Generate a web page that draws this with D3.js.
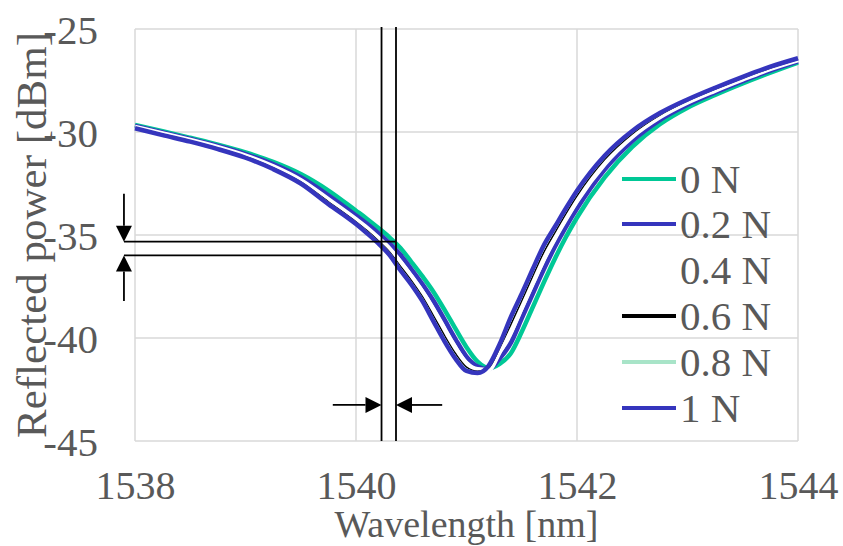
<!DOCTYPE html>
<html><head><meta charset="utf-8">
<script src="https://cdn.jsdelivr.net/npm/d3@7"></script>
<style>
html,body{margin:0;padding:0;background:#fff;}
svg{display:block;}
</style></head>
<body>
<svg id="chart" width="843" height="546"></svg>
<script>
const wavelengths = [1538.00,1538.25,1538.50,1538.75,1539.00,1539.25,1539.50,1539.75,1540.00,1540.10,1540.20,1540.30,1540.40,1540.50,1540.60,1540.70,1540.80,1540.90,1541.00,1541.10,1541.20,1541.30,1541.40,1541.50,1541.60,1541.70,1541.80,1541.90,1542.00,1542.25,1542.50,1542.75,1543.00,1543.25,1543.50,1543.75,1544.00];
const power0N  = [-29.66,-29.96,-30.28,-30.61,-30.99,-31.45,-32.04,-32.84,-33.82,-34.22,-34.65,-35.10,-35.62,-36.30,-37.00,-37.75,-38.62,-39.55,-40.45,-41.15,-41.46,-41.25,-40.75,-39.70,-38.50,-37.30,-36.15,-35.10,-34.15,-32.20,-30.72,-29.62,-28.82,-28.20,-27.64,-27.12,-26.63];
const power02N = [-29.71,-30.02,-30.34,-30.68,-31.07,-31.56,-32.20,-33.07,-34.05,-34.46,-34.90,-35.38,-35.95,-36.65,-37.38,-38.18,-39.10,-40.05,-40.90,-41.38,-41.52,-41.00,-40.25,-39.05,-37.85,-36.67,-35.57,-34.60,-33.72,-31.83,-30.44,-29.42,-28.68,-28.08,-27.53,-27.02,-26.57];
const power04N = [-29.76,-30.07,-30.39,-30.74,-31.15,-31.67,-32.34,-33.27,-34.24,-34.66,-35.13,-35.64,-36.29,-36.99,-37.75,-38.63,-39.58,-40.49,-41.22,-41.52,-41.55,-40.68,-39.73,-38.54,-37.35,-36.18,-35.16,-34.23,-33.35,-31.55,-30.23,-29.28,-28.57,-27.99,-27.45,-26.94,-26.51];
const power06N = [-29.79,-30.11,-30.43,-30.79,-31.20,-31.74,-32.42,-33.39,-34.36,-34.79,-35.27,-35.80,-36.50,-37.20,-37.98,-38.91,-39.87,-40.75,-41.41,-41.61,-41.45,-40.49,-39.36,-38.19,-36.99,-35.83,-34.88,-33.96,-33.10,-31.34,-30.09,-29.18,-28.49,-27.92,-27.38,-26.89,-26.47];
const power08N = [-29.81,-30.14,-30.46,-30.81,-31.23,-31.78,-32.47,-33.46,-34.43,-34.87,-35.35,-35.89,-36.63,-37.33,-38.12,-39.08,-40.05,-40.91,-41.53,-41.67,-41.36,-40.37,-39.13,-37.97,-36.77,-35.62,-34.70,-33.79,-32.94,-31.22,-30.00,-29.12,-28.45,-27.87,-27.34,-26.85,-26.44];
const power1N  = [-29.82,-30.15,-30.47,-30.83,-31.25,-31.80,-32.50,-33.50,-34.47,-34.92,-35.40,-35.95,-36.70,-37.40,-38.20,-39.18,-40.15,-41.00,-41.60,-41.70,-41.35,-40.30,-39.00,-37.85,-36.65,-35.50,-34.60,-33.70,-32.85,-31.15,-29.95,-29.08,-28.42,-27.85,-27.32,-26.83,-26.42];

const seriesNames = ["0 N","0.2 N","0.4 N","0.6 N","0.8 N","1 N"];
const seriesValues = [power0N, power02N, power04N, power06N, power08N, power1N];
const seriesColors = ["#00c896","#3535bd","#ffffff","#000000","#a8e4c8","#3535bd"];
const seriesWidths = [4.5, 4.5, 4.5, 1.5, 2.5, 4.5];

const xTicks = [1538, 1540, 1542, 1544];
const yTicks = [-45, -40, -35, -30, -25];
const yTickLabels = ["-45", "-40", "-35", "-30", "-25"];

// annotation markers (wavelength / power values)
const markWavelengths = [1540.231, 1540.362];
const markPowers = [-35.325, -35.99];

const FONT = '"Liberation Serif", Tinos, "Times New Roman", Times, "DejaVu Serif", serif';

const svg = d3.select("#chart");
const x = d3.scaleLinear().domain([1538, 1544]).range([135, 798]);
const y = d3.scaleLinear().domain([-45, -25]).range([441, 29]);

// gridlines
const grid = svg.append("g");
grid.selectAll("line.v").data(xTicks).join("line")
  .attr("x1", d => x(d)).attr("x2", d => x(d))
  .attr("y1", y(-45)).attr("y2", y(-25))
  .attr("stroke", "#d9d9d9").attr("stroke-width", 1.5);
grid.selectAll("line.h").data(yTicks).join("line")
  .attr("x1", x(1538)).attr("x2", x(1544))
  .attr("y1", d => y(d)).attr("y2", d => y(d))
  .attr("stroke", "#d9d9d9").attr("stroke-width", 1.5);

// axes tick labels
const xAxis = d3.axisBottom(x).tickValues(xTicks).tickSize(0).tickFormat(d3.format("d"));
const gx = svg.append("g").attr("transform", `translate(0,${y(-45)})`).call(xAxis)
  .attr("font-family", FONT).attr("font-size", 40);
gx.select(".domain").remove();
gx.selectAll("text").attr("dy", 0).attr("y", 58).attr("fill", "#595959");

const yAxis = d3.axisLeft(y).tickValues(yTicks).tickSize(0)
  .tickFormat(d => yTickLabels[yTicks.indexOf(d)]);
const gy = svg.append("g").attr("transform", `translate(${x(1538)},0)`).call(yAxis)
  .attr("font-family", FONT).attr("font-size", 41);
gy.select(".domain").remove();
gy.selectAll("text").attr("x", -37).attr("dy", 14).attr("fill", "#595959");

// axis titles
svg.append("text").attr("x", x(1541)).attr("y", 537).attr("text-anchor", "middle")
  .attr("font-family", FONT).attr("fill", "#595959")
  .attr("font-size", 38).text("Wavelength [nm]");
svg.append("text").attr("transform", `translate(46,${y(-35)}) rotate(-90)`)
  .attr("font-family", FONT).attr("fill", "#595959")
  .attr("text-anchor", "middle").attr("font-size", 43).text("Reflected power [dBm]");

// series
const line = d3.line().x((d, i) => x(wavelengths[i])).y(d => y(d)).curve(d3.curveMonotoneX);
seriesValues.forEach((vals, k) => {
  svg.append("path").datum(vals).attr("d", line)
    .attr("fill", "none").attr("stroke", seriesColors[k])
    .attr("stroke-width", seriesWidths[k]).attr("stroke-linejoin", "round");
});

// annotation lines
const ann = svg.append("g").attr("stroke", "#000").attr("stroke-width", 1.8);
markWavelengths.forEach(w => {
  ann.append("line").attr("x1", x(w)).attr("x2", x(w)).attr("y1", y(-24.9)).attr("y2", y(-45));
});
ann.append("line").attr("x1", x(1537.90)).attr("x2", x(markWavelengths[1]))
  .attr("y1", y(markPowers[0])).attr("y2", y(markPowers[0]));
ann.append("line").attr("x1", x(1537.90)).attr("x2", x(markWavelengths[0]))
  .attr("y1", y(markPowers[1])).attr("y2", y(markPowers[1]));

// arrows
function arrow(x1, y1, x2, y2) {
  const len = 16, half = 8;
  const dx = x2 - x1, dy = y2 - y1, L = Math.hypot(dx, dy);
  const ux = dx / L, uy = dy / L;
  const bx = x2 - ux * len, by = y2 - uy * len;
  svg.append("line").attr("x1", x1).attr("y1", y1).attr("x2", bx).attr("y2", by)
    .attr("stroke", "#000").attr("stroke-width", 1.8);
  svg.append("path")
    .attr("d", `M${x2},${y2}L${bx - uy * half},${by + ux * half}L${bx + uy * half},${by - ux * half}Z`)
    .attr("fill", "#000");
}
arrow(x(1537.90), y(-33.0), x(1537.90), y(markPowers[0]));
arrow(x(1537.90), y(-38.2), x(1537.90), y(markPowers[1]));
arrow(x(1539.79), y(-43.25), x(markWavelengths[0]), y(-43.25));
arrow(x(1540.78), y(-43.25), x(markWavelengths[1]), y(-43.25));

// legend
const legendY = [179, 224, 270, 316, 362, 408];
const lg = svg.append("g").attr("font-family", FONT).attr("font-size", 41);
seriesNames.forEach((name, k) => {
  lg.append("line").attr("x1", 622).attr("x2", 676).attr("y1", legendY[k]).attr("y2", legendY[k])
    .attr("stroke", seriesColors[k]).attr("stroke-width", 4);
  lg.append("text").attr("x", 680).attr("y", legendY[k] + 14).attr("fill", "#595959").text(name);
});
</script>
</body></html>
